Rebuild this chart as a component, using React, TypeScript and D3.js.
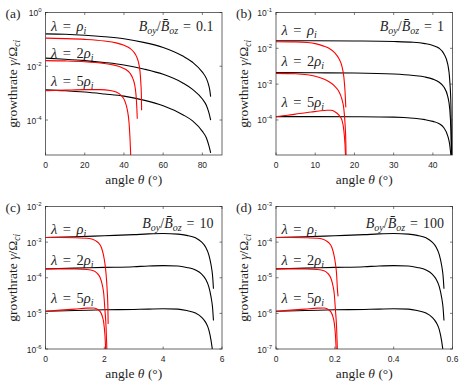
import React from 'react';
import * as d3 from 'd3';

type Pt = [number, number];

// ---------------- Panel (a): Boy/Boz = 0.1 ----------------
const aBlack1: Pt[] = [[0,0.16],[10,0.155],[20,0.143],[30,0.126],[40,0.105],[50,0.0776],[60,0.0501],[70,0.024],[75,0.0141],[80,0.00603],[82,0.00355],[83.2,0.002],[83.9,0.00112],[84.2,0.00074]];
const aBlack2: Pt[] = [[0,0.02],[10,0.0182],[20,0.0162],[30,0.0138],[40,0.0112],[50,0.00794],[60,0.00501],[70,0.0024],[75,0.00138],[80,0.000603],[82,0.000355],[83.2,0.0002],[83.9,0.000126],[84.2,0.0001]];
const aBlack3: Pt[] = [[0,0.00132],[10,0.00123],[20,0.0011],[30,0.000933],[40,0.000776],[50,0.00055],[60,0.000339],[70,0.000158],[75,0.0000933],[80,0.000038],[82,0.0000219],[83.2,0.000012],[83.9,0.0000076],[84.2,0.000006]];
const aRed1: Pt[] = [[0,0.111],[10,0.107],[20,0.1],[30,0.0871],[36,0.0741],[40,0.0603],[43,0.0468],[45,0.0339],[46.5,0.0224],[47.5,0.0132],[48.2,0.0063],[48.6,0.00251],[48.9,0.00079],[49.0,0.000229]];
const aRed2: Pt[] = [[0,0.0162],[10,0.0158],[20,0.0148],[30,0.0126],[35,0.011],[38,0.00955],[41,0.00759],[43,0.00562],[44.5,0.00355],[45.5,0.002],[46.2,0.00079],[46.6,0.000251],[46.8,0.000112]];
const aRed3: Pt[] = [[0,0.00123],[10,0.00129],[20,0.00135],[28,0.00135],[33,0.00126],[36,0.0011],[38.5,0.000832],[40.5,0.000501],[41.8,0.000224],[42.6,0.0000794],[43.1,0.00002],[43.5,0.000004]];

// ---------------- Panel (b): Boy/Boz = 1 ----------------
const bBlack1: Pt[] = [[0,0.0162],[10,0.0162],[20,0.016],[30,0.0155],[35,0.0148],[38,0.0135],[40,0.012],[41.5,0.0102],[42.8,0.00708],[43.8,0.00355],[44.3,0.00126],[44.6,0.000251],[44.8,0.0000063]];
const bBlack2: Pt[] = [[0,0.00209],[10,0.00207],[20,0.00204],[30,0.00191],[35,0.00174],[38,0.00158],[40,0.00138],[41.5,0.00115],[42.8,0.000832],[43.8,0.000447],[44.3,0.0002],[44.6,0.0000501],[44.8,0.0000063]];
const bBlack3: Pt[] = [[0,0.000124],[10,0.000124],[20,0.000123],[30,0.00012],[35,0.000112],[38,0.000102],[40,0.0000912],[41.5,0.0000794],[42.8,0.0000603],[43.8,0.0000355],[44.3,0.00002],[44.6,0.00001],[44.8,0.0000063]];
const bRed1: Pt[] = [[0,0.0153],[5,0.0151],[8,0.0145],[10,0.0135],[12,0.0117],[13.5,0.01],[15,0.00741],[16,0.00525],[16.8,0.00316],[17.3,0.00158],[17.6,0.00063],[17.8,0.000224]];
const bRed2: Pt[] = [[0,0.002],[5,0.00195],[8,0.00182],[10,0.00166],[12,0.00141],[13.5,0.00117],[15,0.000871],[16,0.00063],[16.8,0.00038],[17.3,0.0002],[17.6,0.0000794],[17.8,0.0000251],[17.9,0.0000063]];
const bRed3: Pt[] = [[0,0.000124],[3,0.000135],[6,0.000151],[9,0.000166],[11,0.000178],[13,0.000186],[14,0.000186],[15,0.00017],[16,0.000138],[16.8,0.0001],[17.3,0.0000501],[17.6,0.00002],[17.8,0.0000063]];

// ---------------- Panel (c): Boy/Boz = 10 ----------------
const cBlack1: Pt[] = [[0,0.00135],[1,0.00141],[2,0.00151],[3,0.00162],[3.5,0.0017],[4,0.00174],[4.5,0.00168],[4.8,0.00155],[5.1,0.00132],[5.3,0.00102],[5.45,0.000708],[5.55,0.000447],[5.63,0.000224],[5.68,0.000112],[5.71,0.000049]];
const cBlack2: Pt[] = [[0,0.000178],[1,0.000186],[2,0.000195],[3,0.000204],[3.5,0.000214],[4,0.000219],[4.5,0.000214],[4.8,0.000195],[5.1,0.000166],[5.3,0.000129],[5.45,0.0000891],[5.55,0.0000562],[5.63,0.0000282],[5.68,0.0000141],[5.71,0.0000063]];
const cBlack3: Pt[] = [[0,0.0000115],[1,0.000012],[2,0.0000126],[3,0.0000129],[3.5,0.0000132],[4,0.0000135],[4.5,0.0000132],[4.8,0.000012],[5.1,0.0000102],[5.3,0.0000079],[5.45,0.0000055],[5.55,0.0000035],[5.63,0.0000017],[5.68,0.00000087]];
const cRed1: Pt[] = [[0,0.00135],[0.5,0.00135],[1,0.00133],[1.5,0.00126],[1.7,0.0011],[1.8,0.000955],[1.9,0.000708],[1.97,0.000437],[2.02,0.000251],[2.06,0.000126],[2.1,0.0000398],[2.12,0.0000158],[2.13,0.000005]];
const cRed2: Pt[] = [[0,0.000178],[1,0.000176],[1.4,0.00017],[1.63,0.000158],[1.75,0.000135],[1.86,0.0001],[1.93,0.0000631],[1.98,0.0000355],[2.02,0.0000126],[2.06,0.000004],[2.09,0.00000079]];
const cRed3: Pt[] = [[0,0.0000115],[0.5,0.0000123],[1,0.0000132],[1.4,0.000014],[1.63,0.0000141],[1.75,0.0000132],[1.86,0.0000112],[1.93,0.0000083],[1.98,0.0000054],[2.02,0.0000025],[2.05,0.00000079]];

// ---------------- Panel (d): Boy/Boz = 100 ----------------
const dBlack1: Pt[] = [[0,0.000135],[0.1,0.000141],[0.2,0.000151],[0.3,0.000162],[0.35,0.00017],[0.4,0.000174],[0.45,0.000168],[0.48,0.000155],[0.51,0.000132],[0.53,0.000102],[0.545,0.0000708],[0.555,0.0000447],[0.563,0.0000224],[0.568,0.0000112],[0.571,0.0000049]];
const dBlack2: Pt[] = [[0,0.0000178],[0.1,0.0000186],[0.2,0.0000195],[0.3,0.0000204],[0.35,0.0000214],[0.4,0.0000219],[0.45,0.0000214],[0.48,0.0000195],[0.51,0.0000166],[0.53,0.0000129],[0.545,0.00000891],[0.555,0.00000562],[0.563,0.00000282],[0.568,0.00000141],[0.571,0.00000063]];
const dBlack3: Pt[] = [[0,0.00000115],[0.1,0.0000012],[0.2,0.00000126],[0.3,0.00000129],[0.35,0.00000132],[0.4,0.00000135],[0.45,0.00000132],[0.48,0.0000012],[0.51,0.00000102],[0.53,0.00000079],[0.545,0.00000055],[0.555,0.00000035],[0.563,0.00000017],[0.568,0.000000087]];
const dRed1: Pt[] = [[0,0.000135],[0.05,0.000135],[0.1,0.000133],[0.15,0.000126],[0.17,0.00011],[0.18,0.0000955],[0.19,0.0000708],[0.197,0.0000437],[0.202,0.0000251],[0.206,0.0000126],[0.209,0.0000045],[0.211,0.000003]];
const dRed2: Pt[] = [[0,0.0000178],[0.1,0.0000176],[0.14,0.000017],[0.163,0.0000158],[0.175,0.0000135],[0.186,0.00001],[0.193,0.00000631],[0.198,0.00000355],[0.202,0.00000126],[0.206,0.0000004],[0.209,0.000000079]];
const dRed3: Pt[] = [[0,0.00000115],[0.05,0.00000123],[0.1,0.00000132],[0.14,0.0000014],[0.163,0.00000141],[0.175,0.00000132],[0.186,0.00000112],[0.193,0.00000083],[0.198,0.00000054],[0.202,0.00000025],[0.205,0.000000079]];

// ---------------- axes / labels ----------------
const panelLetters = ['(a)', '(b)', '(c)', '(d)'];
const ratioLabels = ['0.1', '1', '10', '100'];
const lambdaFactors = ['', '2', '5'];
const xDomains: [number, number][] = [[0, 90], [0, 45], [0, 6], [0, 0.6]];
const yDomains: [number, number][] = [[5e-6, 1], [1.05e-5, 1e-1], [1e-6, 1e-2], [1e-7, 1e-3]];
const xTickValues = [[0, 20, 40, 60, 80], [0, 10, 20, 30, 40], [0, 2, 4, 6], [0, 0.2, 0.4, 0.6]];
const yTickValues = [[1, 1e-2, 1e-4], [1e-1, 1e-2, 1e-3, 1e-4], [1e-2, 1e-3, 1e-4, 1e-5, 1e-6], [1e-3, 1e-4, 1e-5, 1e-6, 1e-7]];
const blackSeries = [[aBlack1, aBlack2, aBlack3], [bBlack1, bBlack2, bBlack3], [cBlack1, cBlack2, cBlack3], [dBlack1, dBlack2, dBlack3]];
const redSeries = [[aRed1, aRed2, aRed3], [bRed1, bRed2, bRed3], [cRed1, cRed2, cRed3], [dRed1, dRed2, dRed3]];

// layout (pixels)
const colX = [45.5, 276];
const rowY = [12.5, 206.5];
const plotW = 176.5;
const plotH = 142.5;
const lambdaLabelY = [[18, 45, 73.5], [22.5, 53.5, 94.5], [27, 58, 96], [27, 58, 96]];
const ratioLabelY = [18, 18, 21, 21];

const SERIF = 'Liberation Serif';
const SANS = 'Liberation Sans';
const AX = '#262626';
const TXT = '#1f1f1f';

function Panel({ idx }: { idx: number }) {
  const x0 = colX[idx % 2];
  const y0 = rowY[Math.floor(idx / 2)];
  const x1 = x0 + plotW;
  const y1 = y0 + plotH;
  const x = d3.scaleLinear().domain(xDomains[idx]).range([x0, x1]);
  const y = d3.scaleLog().domain(yDomains[idx]).range([y1, y0]);
  const line = d3
    .line<Pt>()
    .x((d) => x(d[0]))
    .y((d) => y(d[1]))
    .curve(d3.curveMonotoneX);
  const clipId = `clip-${idx}`;
  const tl = 2.5;
  return (
    <g>
      <defs>
        <clipPath id={clipId}>
          <rect x={x0} y={y0} width={plotW} height={plotH} />
        </clipPath>
      </defs>
      <rect x={x0} y={y0} width={plotW} height={plotH} fill="#fff" stroke="none" />
      <g clipPath={`url(#${clipId})`}>
        {blackSeries[idx].map((s, i) => (
          <path key={`b${i}`} d={line(s) || ''} fill="none" stroke="#000" strokeWidth={1.1} />
        ))}
        {redSeries[idx].map((s, i) => (
          <path key={`r${i}`} d={line(s) || ''} fill="none" stroke="#ff0000" strokeWidth={1.1} />
        ))}
      </g>
      <rect x={x0} y={y0} width={plotW} height={plotH} fill="none" stroke={AX} strokeWidth={0.7} />
      {xTickValues[idx].map((t) => (
        <g key={`xt${t}`}>
          <line x1={x(t)} x2={x(t)} y1={y1} y2={y1 - tl} stroke={AX} strokeWidth={0.6} />
          <line x1={x(t)} x2={x(t)} y1={y0} y2={y0 + tl} stroke={AX} strokeWidth={0.6} />
          <text x={x(t)} y={y1 + 13} textAnchor="middle" fontFamily={SANS} fontSize={8.5} fill={AX}>
            {String(t)}
          </text>
        </g>
      ))}
      {yTickValues[idx].map((t) => (
        <g key={`yt${t}`}>
          <line x1={x0} x2={x0 + tl} y1={y(t)} y2={y(t)} stroke={AX} strokeWidth={0.6} />
          <line x1={x1} x2={x1 - tl} y1={y(t)} y2={y(t)} stroke={AX} strokeWidth={0.6} />
          <text x={x0 - 4} y={y(t) + 3.5} textAnchor="end" fontFamily={SANS} fontSize={8.5} fill={AX}>
            10<tspan fontSize={6} dy={-4}>{String(Math.round(Math.log10(t)))}</tspan>
          </text>
        </g>
      ))}
      {lambdaFactors.map((f, i) => (
        <text key={`lam${i}`} x={x0 + 5.5} y={y0 + lambdaLabelY[idx][i]} fontFamily={SERIF} fontSize={14.5} fill={TXT}>
          <tspan fontStyle="italic">λ</tspan>
          <tspan dx={5.5}>=</tspan>
          {f ? <tspan dx={5.5}>{f}</tspan> : null}
          <tspan fontStyle="italic" dx={f ? 0 : 5.5}>ρ</tspan>
          <tspan fontStyle="italic" fontSize={10} dy={3}>i</tspan>
        </text>
      ))}
      <text x={x1 - 8.5} y={y0 + ratioLabelY[idx]} textAnchor="end" fontFamily={SERIF} fontSize={14} fill={TXT}>
        <tspan fontStyle="italic">B</tspan>
        <tspan fontStyle="italic" fontSize={10} dy={3}>oy</tspan>
        <tspan dy={-3}>/</tspan>
        <tspan fontStyle="italic">{'B\u0304'}</tspan>
        <tspan fontStyle="italic" fontSize={10} dy={3}>oz</tspan>
        <tspan dy={-3} dx={5}>=</tspan>
        <tspan dx={5}>{ratioLabels[idx]}</tspan>
      </text>
      <text x={(x0 + x1) / 2} y={y1 + 28.5} textAnchor="middle" fontFamily={SERIF} fontSize={13.5} fill={TXT}>
        angle <tspan fontStyle="italic">θ</tspan> (°)
      </text>
      <text
        transform={`translate(${x0 - 28.5},${(y0 + y1) / 2}) rotate(-90)`}
        textAnchor="middle"
        fontFamily={SERIF}
        fontSize={13.5}
        fill={TXT}
      >
        growthrate <tspan fontStyle="italic">γ</tspan>/Ω<tspan fontStyle="italic" fontSize={9.5} dy={3}>ci</tspan>
      </text>
      <text x={x0 - 40} y={y0 + 5} fontFamily={SERIF} fontSize={13.5} fill={TXT}>
        {panelLetters[idx]}
      </text>
    </g>
  );
}

export default function App() {
  React.useEffect(() => {
    document.body.style.margin = '0';
  }, []);
  return (
    <svg
      width={463}
      height={388}
      viewBox="0 0 463 388"
      style={{ position: 'absolute', left: 0, top: 0, background: '#fff' }}
    >
      <rect x={0} y={0} width={463} height={388} fill="#fff" />
      {[0, 1, 2, 3].map((i) => (
        <Panel key={i} idx={i} />
      ))}
    </svg>
  );
}
